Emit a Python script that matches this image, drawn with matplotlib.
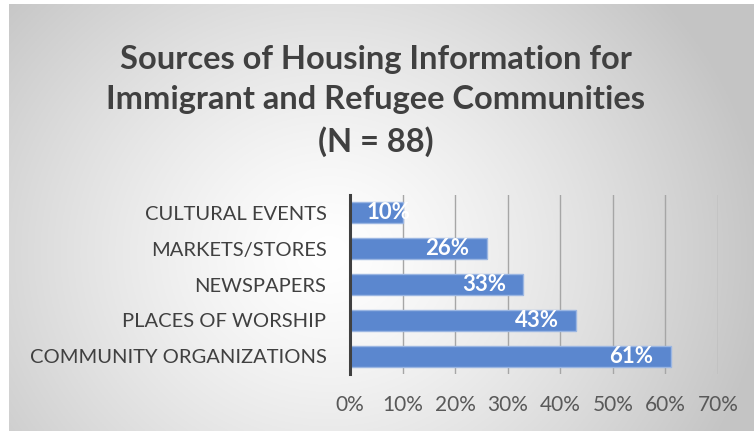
import numpy as np
import matplotlib
matplotlib.use("Agg")
import matplotlib.pyplot as plt
from matplotlib.ticker import FuncFormatter

categories = ["COMMUNITY ORGANIZATIONS", "PLACES OF WORSHIP", "NEWSPAPERS",
              "MARKETS/STORES", "CULTURAL EVENTS"]
values = [0.61, 0.43, 0.33, 0.26, 0.10]
xticks = [0, 0.1, 0.2, 0.3, 0.4, 0.5, 0.6, 0.7]
title = "Sources of Housing Information for\nImmigrant and Refugee Communities\n(N = 88)"

W, H = 754, 436
fig = plt.figure(figsize=(W / 100, H / 100), dpi=100)
fig.patch.set_facecolor("white")

# background gradient panel
bg = fig.add_axes([9 / W, 5 / H, (W - 9) / W, (H - 9) / H], zorder=0)
gx, gy = np.meshgrid(np.linspace(0, W - 9, 400), np.linspace(0, H - 9, 250))
cx, cy = 320, 250
d = np.sqrt(((gx - cx) / 1.0) ** 2 + ((gy - cy) / 0.9) ** 2)
t = np.clip(d / 440, 0, 1) ** 1.3
val = 1.0 - t * (1.0 - 0.77)
img = np.dstack([val, val, val])
bg.imshow(img, aspect="auto", origin="upper", extent=[0, 1, 0, 1])
bg.set_axis_off()

ax = fig.add_axes([350 / W, (H - 374) / H, 368 / W, 179 / H], zorder=1)
ax.patch.set_alpha(0)
y = np.arange(len(categories))
ax.barh(y, values, height=0.59, color="#5b87cf", edgecolor="#9bb6e2", linewidth=1, zorder=3)
ax.set_xlim(0, 0.7)
ax.set_ylim(-0.5, len(categories) - 0.5)
ax.set_xticks(xticks)
ax.xaxis.set_major_formatter(FuncFormatter(lambda v, p: f"{v * 100:.0f}%"))
ax.set_yticks(y)
ax.set_yticklabels(categories)
ax.grid(axis="x", color="#a6a6a6", linewidth=1, zorder=0)
for s in ["top", "right", "bottom"]:
    ax.spines[s].set_visible(False)
ax.spines["left"].set_color("#404040")
ax.spines["left"].set_linewidth(2.2)
ax.spines["left"].set_zorder(4)
ax.tick_params(axis="both", length=0, colors="#595959")
ax.tick_params(axis="x", pad=15)
ax.tick_params(axis="y", pad=17)
for lab in ax.get_xticklabels():
    lab.set_fontfamily("Lato"); lab.set_fontsize(15); lab.set_color("#595959")
for lab in ax.get_yticklabels():
    lab.set_fontfamily("Lato"); lab.set_fontsize(14.5); lab.set_color("#404040")

for yi, v in zip(y, values):
    if v < 0.15:
        ax.annotate(f"{v * 100:.0f}%", (0, yi), xytext=(12, 0), textcoords="offset points",
                    ha="left", va="center", color="white", fontweight="bold",
                    fontfamily="Lato", fontsize=16, zorder=5)
    else:
        ax.annotate(f"{v * 100:.0f}%", (v, yi), xytext=(-12.5, 0), textcoords="offset points",
                    ha="right", va="center", color="white", fontweight="bold",
                    fontfamily="Lato", fontsize=16, zorder=5)

fig.text(376 / W, 1 - 101 / H, title, ha="center", va="center", fontsize=23.5,
         fontweight="bold", fontfamily="Lato", color="#404040", linespacing=1.45, zorder=2)

fig.savefig("out.png", dpi=100)
